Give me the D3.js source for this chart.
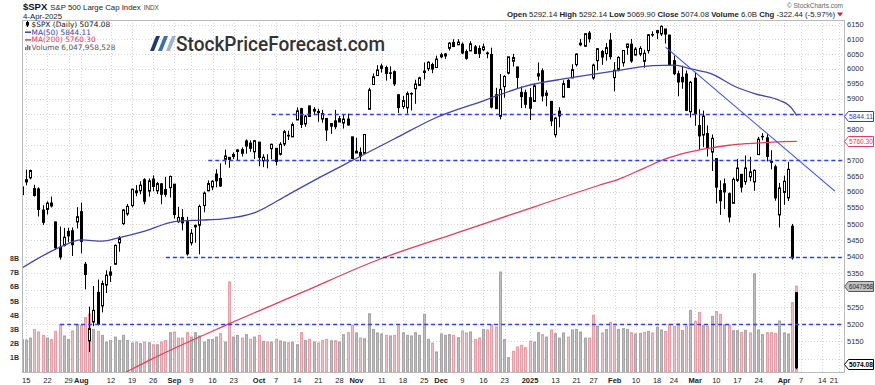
<!DOCTYPE html>
<html>
<head>
<meta charset="utf-8">
<script src="https://cdn.jsdelivr.net/npm/d3@7"></script>
<style>
  body { margin: 0; background: #fff; }
  svg { display: block; }
</style>
</head>
<body>
<div id="chart"></div>
<script>
// ---- data ----
const firstDay = "2024-07-12"
const lastAxisDay = "2025-04-25"
const holidays = ["2024-09-02", "2024-11-28", "2024-12-25", "2025-01-01", "2025-01-09",
  "2025-01-20", "2025-02-17", "2025-04-18"]

// one row per month: Jul(from 12th) .. Apr(to 4th)
const opens = [
  5591, 5638, 5644, 5610, 5609, 5543, 5545, 5565, 5506, 5429, 5434, 5477, 5479, 5506,
  5538, 5377, 5151, 5206, 5293, 5253, 5315, 5354, 5377, 5442, 5501, 5531, 5557, 5603, 5603, 5638, 5602, 5640, 5603, 5625, 5607, 5613,
  5624, 5507, 5520, 5507, 5442, 5491, 5496, 5557, 5603, 5615, 5656, 5642, 5703, 5709, 5712, 5728, 5734, 5762, 5755, 5727,
  5758, 5698, 5698, 5737, 5738, 5719, 5752, 5778, 5775, 5830, 5867, 5817, 5876, 5859, 5858, 5833, 5835, 5818, 5827, 5834, 5820, 5833, 5775,
  5723, 5725, 5722, 5865, 5947, 5977, 6009, 6004, 5986, 5990, 5913, 5874, 5870, 5917, 5933, 5944, 5992, 6000, 6014, 6004,
  6040, 6043, 6069, 6089, 6081, 6083, 6058, 6060, 6074, 6068, 6064, 6053, 6048, 5913, 5842, 5940, 5985, 6025, 6006, 5921, 5920,
  5903, 5891, 5983, 5993, 5911, 5891, 5782, 5859, 5905, 5961, 5969, 6014, 6081, 6076, 6121, 5969, 6027, 6058, 6051, 6097,
  5970, 5998, 6020, 6072, 6083, 6046, 6049, 6025, 6061, 6116, 6122, 6118, 6135, 6114, 6027, 5983, 5971, 5982, 5857,
  5968, 5812, 5781, 5786, 5726, 5705, 5604, 5625, 5594, 5564, 5636, 5655, 5632, 5647, 5631, 5718, 5776, 5772, 5696, 5679, 5528,
  5598, 5581, 5493, 5292.14
]
const highs = [
  5656, 5670, 5670, 5622, 5614, 5558, 5570, 5585, 5508, 5492, 5488, 5488, 5489, 5552,
  5566, 5384, 5251, 5312, 5331, 5328, 5359, 5371, 5437, 5463, 5546, 5562, 5608, 5621, 5633, 5643, 5642, 5652, 5631, 5627, 5647, 5651,
  5624, 5553, 5546, 5522, 5484, 5498, 5560, 5601, 5636, 5636, 5671, 5690, 5734, 5709, 5725, 5735, 5741, 5767, 5764, 5765,
  5758, 5719, 5719, 5753, 5739, 5758, 5797, 5795, 5822, 5871, 5870, 5847, 5878, 5872, 5867, 5863, 5835, 5818, 5863, 5843, 5847, 5851, 5775,
  5772, 5741, 5784, 5936, 5984, 6012, 6017, 6010, 6008, 5994, 5915, 5909, 5924, 5921, 5963, 5973, 6021, 6025, 6020, 6044,
  6054, 6053, 6090, 6100, 6100, 6089, 6065, 6093, 6080, 6079, 6085, 6058, 6071, 5936, 5982, 5978, 6040.1, 6050, 6006, 5941, 5930,
  5935, 5949, 6021, 6001, 5928, 5891, 5839, 5872, 5961, 5965, 6015, 6052, 6101, 6119, 6128, 6017, 6069, 6063, 6087, 6121,
  6022, 6042, 6063, 6084, 6101, 6073, 6076, 6064, 6117, 6127, 6130, 6147, 6135, 6115, 6044, 5993, 6010, 5994, 5959,
  5986, 5865, 5861, 5812, 5783, 5705, 5636, 5642, 5598, 5645, 5704, 5655, 5715, 5711, 5671, 5775, 5787, 5784, 5732, 5686, 5628,
  5651, 5695, 5500, 5292.14
]
const lows = [
  5590, 5621, 5639, 5585, 5523, 5497, 5529, 5551, 5420, 5391, 5431, 5444, 5402, 5486,
  5410, 5302, 5119, 5194, 5196, 5234, 5291, 5324, 5377, 5415, 5497, 5525, 5551, 5586, 5592, 5561, 5585, 5602, 5593, 5561, 5584, 5582,
  5517, 5503, 5480, 5403, 5434, 5442, 5407, 5536, 5602, 5605, 5614, 5615, 5686, 5676, 5704, 5699, 5712, 5721, 5727, 5704,
  5681, 5678, 5674, 5703, 5683, 5715, 5745, 5765, 5775, 5830, 5804, 5808, 5840, 5846, 5824, 5821, 5762, 5785, 5800, 5823, 5802, 5811, 5703,
  5723, 5697, 5722, 5865, 5947, 5977, 5987, 5960, 5966, 5942, 5853, 5866, 5851, 5861, 5883, 5944, 5964, 5992, 5985, 6004,
  6035, 6033, 6061, 6073, 6080, 6049, 6030, 6060, 6051, 6036, 6059, 6035, 5868, 5866, 5832, 5903, 5981, 6007, 5933, 5869, 5869,
  5830, 5889, 5960, 5891, 5875, 5810, 5773, 5806, 5905, 5936, 5969, 6007, 6076, 6075, 6089, 5963, 5994, 6013, 6027, 6031,
  5924, 5991, 6007, 6047, 6020, 6045, 6042, 6003, 6051, 6108, 6100, 6111, 6085, 6009, 5978, 5908, 5933, 5859, 5838,
  5811, 5733, 5742, 5712, 5666, 5564, 5528, 5546, 5505, 5564, 5631, 5598, 5622, 5633, 5603, 5718, 5764, 5696, 5671, 5572, 5489,
  5559, 5571, 5391, 5069.90
]
const closes = [
  5615.4, 5631.2, 5667.2, 5588.3, 5544.6, 5505.0, 5564.4, 5555.7, 5427.1, 5399.2, 5459.1, 5463.5, 5436.4, 5522.3,
  5446.7, 5346.6, 5186.3, 5240.0, 5199.5, 5319.3, 5344.2, 5344.4, 5434.4, 5455.2, 5543.2, 5554.3, 5608.3, 5597.1, 5620.9, 5570.6, 5634.6, 5616.8, 5625.8, 5592.2, 5592.0, 5648.4,
  5528.9, 5520.1, 5503.4, 5408.4, 5471.1, 5495.5, 5554.1, 5595.8, 5626.0, 5633.1, 5634.6, 5618.3, 5713.6, 5702.6, 5718.6, 5732.9, 5722.3, 5745.4, 5738.2, 5762.5,
  5708.8, 5709.5, 5699.9, 5751.1, 5695.9, 5751.1, 5792.0, 5780.1, 5815.0, 5859.9, 5815.3, 5842.5, 5841.5, 5864.7, 5854.0, 5851.2, 5797.4, 5809.9, 5808.1, 5823.5, 5832.9, 5813.7, 5705.5,
  5728.8, 5712.7, 5782.8, 5929.0, 5973.1, 5995.5, 6001.4, 5984.0, 5985.4, 5949.2, 5870.6, 5893.6, 5917.0, 5917.1, 5948.7, 5969.3, 5987.4, 6021.6, 5998.7, 6032.4,
  6047.2, 6049.9, 6086.5, 6075.1, 6090.3, 6052.9, 6034.9, 6084.2, 6051.3, 6051.1, 6074.1, 6050.6, 5872.2, 5867.1, 5930.9, 5974.1, 6040.0, 6037.6, 5970.8, 5906.9, 5881.6,
  5868.6, 5942.5, 5975.4, 5909.0, 5918.3, 5827.0, 5836.2, 5842.9, 5949.9, 5937.3, 5996.7, 6049.2, 6086.4, 6118.7, 6101.2, 6012.3, 6067.7, 6039.3, 6071.2, 6040.5,
  5994.6, 6037.9, 6061.5, 6083.6, 6026.0, 6066.4, 6068.5, 6052.0, 6115.1, 6114.6, 6129.6, 6144.2, 6117.5, 6013.1, 5983.3, 5955.3, 5956.1, 5861.6, 5954.5,
  5849.7, 5778.2, 5842.6, 5738.5, 5770.2, 5614.6, 5572.1, 5599.3, 5521.5, 5638.9, 5675.1, 5614.7, 5675.3, 5662.9, 5667.6, 5767.6, 5776.7, 5712.2, 5693.3, 5580.9, 5611.9,
  5633.1, 5671.0, 5396.52, 5074.08
]
// volume, billions of shares
const volumes = [
  2.28, 2.25, 2.39, 3.0, 2.82, 2.58, 2.39, 2.28, 2.86, 3.33, 2.54, 2.28, 2.89, 3.33,
  3.28, 3.83, 4.1, 3.0, 2.86, 2.58, 2.11, 2.22, 2.46, 2.22, 2.58, 2.22, 2.04, 2.11, 2.0, 2.11, 2.06, 1.92, 1.92, 2.11, 2.22, 2.77,
  2.82, 2.39, 2.39, 2.77, 2.46, 2.77, 2.54, 2.11, 2.28, 2.28, 2.46, 2.7, 2.11, 6.34, 2.46, 2.58, 2.39, 2.63, 2.3, 2.46,
  2.58, 2.16, 2.11, 2.11, 2.3, 2.18, 2.11, 2.06, 2.11, 1.92, 2.77, 2.22, 2.3, 2.11, 2.04, 2.22, 2.3, 2.2, 2.2, 2.11, 2.63, 2.77, 3.28,
  2.75, 2.39, 2.35, 4.1, 3.0, 2.75, 2.68, 2.58, 2.54, 2.58, 3.24, 2.77, 2.58, 2.54, 2.77, 2.58, 4.06, 2.3, 2.04, 1.41,
  2.68, 2.58, 2.63, 2.58, 2.42, 2.89, 2.75, 2.82, 2.3, 2.39, 3.0, 2.96, 3.33, 3.17, 7.04, 2.28, 1.01, 1.46, 1.76, 1.88, 1.71,
  2.18, 2.11, 2.77, 2.63, 2.46, 2.96, 2.7, 2.39, 2.75, 2.46, 2.96, 3.0, 2.82, 2.39, 2.39, 3.99, 3.24, 2.75, 3.0, 3.5,
  3.22, 3.0, 3.05, 3.0, 2.77, 2.68, 2.72, 2.79, 2.86, 2.75, 3.15, 2.96, 2.86, 3.36, 3.22, 3.41, 2.93, 3.24, 4.34,
  3.57, 4.2, 3.26, 3.24, 3.92, 4.25, 4.06, 3.33, 3.28, 2.91, 2.91, 2.79, 2.93, 2.75, 6.92, 2.96, 2.63, 2.77, 2.77, 2.72, 3.59,
  2.75, 2.68, 4.88, 6.048
]

// moving averages read at sample dates
const ma50 = [
  ["2024-07-12", 5366], ["2024-07-25", 5429], ["2024-08-01", 5451], ["2024-08-08", 5447],
  ["2024-08-14", 5458], ["2024-08-22", 5478], ["2024-09-03", 5507], ["2024-09-11", 5512],
  ["2024-09-18", 5515], ["2024-09-30", 5535], ["2024-10-10", 5592], ["2024-10-22", 5650],
  ["2024-10-31", 5699], ["2024-11-14", 5769], ["2024-11-29", 5839], ["2024-12-16", 5893],
  ["2024-12-31", 5942], ["2025-01-16", 5968], ["2025-01-31", 5990], ["2025-02-14", 6010],
  ["2025-02-24", 6012], ["2025-02-28", 5999], ["2025-03-07", 5982], ["2025-03-14", 5943],
  ["2025-03-21", 5917], ["2025-03-31", 5894], ["2025-04-02", 5879], ["2025-04-03", 5865],
  ["2025-04-04", 5844.11]
]
const ma200 = [
  ["2024-08-05", 5010], ["2024-08-15", 5058], ["2024-08-23", 5095], ["2024-09-20", 5201],
  ["2024-10-15", 5292], ["2024-11-08", 5390], ["2024-12-04", 5465], ["2024-12-26", 5531],
  ["2025-01-28", 5619], ["2025-02-04", 5640], ["2025-02-12", 5675], ["2025-02-20", 5704],
  ["2025-02-27", 5724], ["2025-03-06", 5738], ["2025-03-13", 5748], ["2025-03-19", 5753],
  ["2025-03-26", 5757], ["2025-04-01", 5760], ["2025-04-04", 5760.30]
]

// drawn annotations: horizontal levels (with start date) and the falling trend line
const levels = [[5850, "2024-10-04"], [5700, "2024-09-13"], [5400, "2024-08-29"], [5200, "2024-07-25"]]
const trendLine = [["2025-02-20", 6073], ["2025-04-17", 5602]]

const priceTicks = d3.range(5100, 6151, 50)
const volumeTicks = [1, 2, 3, 4, 5, 6, 7, 8]
const dateTicks = [
  ["2024-07-15", "15"], ["2024-07-22", "22"], ["2024-07-29", "29"], ["2024-08-01", "Aug", 1],
  ["2024-08-12", "12"], ["2024-08-19", "19"], ["2024-08-26", "26"], ["2024-09-03", "Sep", 1],
  ["2024-09-09", "9"], ["2024-09-16", "16"], ["2024-09-23", "23"], ["2024-10-01", "Oct", 1],
  ["2024-10-07", "7"], ["2024-10-14", "14"], ["2024-10-21", "21"], ["2024-10-28", "28"],
  ["2024-11-01", "Nov", 1], ["2024-11-11", "11"], ["2024-11-18", "18"], ["2024-11-25", "25"],
  ["2024-12-02", "Dec", 1], ["2024-12-09", "9"], ["2024-12-16", "16"], ["2024-12-23", "23"],
  ["2025-01-02", "2025", 1], ["2025-01-13", "13"], ["2025-01-21", "21"], ["2025-01-27", "27"],
  ["2025-02-03", "Feb", 1], ["2025-02-10", "10"], ["2025-02-18", "18"], ["2025-02-24", "24"],
  ["2025-03-03", "Mar", 1], ["2025-03-10", "10"], ["2025-03-17", "17"], ["2025-03-24", "24"],
  ["2025-04-01", "Apr", 1], ["2025-04-07", "7"], ["2025-04-14", "14"], ["2025-04-21", "21"]
]

const headerStats = [["Open", "5292.14"], ["High", "5292.14"], ["Low", "5069.90"], ["Close", "5074.08"],
  ["Volume", "6.0B"], ["Chg", "-322.44 (-5.97%)"]]
const legendRows = [
  ["$SPX (Daily) 5074.08", "#222", "candle"],
  ["MA(50) 5844.11", "#3c3ca8", "line"],
  ["MA(200) 5760.30", "#e0405c", "line"],
  ["Volume 6,047,958,528", "#555", "vol"]
]

// ---- trading day calendar ----
function tradingDays(from, to) {
  const out = []
  const end = new Date(to + "T00:00:00Z")
  for (let d = new Date(from + "T00:00:00Z"); d <= end; d.setUTCDate(d.getUTCDate() + 1)) {
    const s = d.toISOString().slice(0, 10)
    const dow = d.getUTCDay()
    if (dow > 0 && dow < 6 && !holidays.includes(s)) out.push(s)
  }
  return out
}
const days = tradingDays(firstDay, lastAxisDay)
const dayIndex = new Map(days.map((d, i) => [d, i]))

const bars = closes.map((c, i) => ({
  i, o: opens[i], h: highs[i], l: lows[i], c, v: volumes[i],
  down: i > 0 && c < closes[i - 1]
}))

// ---- layout ----
const W = 875, H = 385
const P = { LEFT: 22, RIGHT: 844, TOP: 20, BOTTOM: 372 }
const FONT = '"Liberation Sans", Arial, sans-serif'

const x = d3.scaleLinear().domain([0, 194.15]).range([P.LEFT, P.RIGHT])
const y = d3.scaleLog().domain([5062, 6166]).range([P.BOTTOM, P.TOP])
const yVol = d3.scaleLinear().domain([0, 24.79]).range([P.BOTTOM, P.TOP])
const xd = d => x(dayIndex.get(d))

const svg = d3.select("#chart").append("svg")
  .attr("width", W).attr("height", H)
  .style("font-family", FONT)

svg.append("rect").attr("width", W).attr("height", H).attr("fill", "#fff")

svg.append("defs").append("clipPath").attr("id", "plot")
  .append("rect")
  .attr("x", P.LEFT).attr("y", P.TOP)
  .attr("width", P.RIGHT - P.LEFT).attr("height", P.BOTTOM - P.TOP)

// grid
const grid = svg.append("g")
  .attr("stroke", "#d6d6d6").attr("stroke-dasharray", "1,2").attr("stroke-width", 1)
grid.selectAll(".gh").data(priceTicks).join("line")
  .attr("x1", P.LEFT).attr("x2", P.RIGHT)
  .attr("y1", d => Math.round(y(d)) + 0.5).attr("y2", d => Math.round(y(d)) + 0.5)
grid.selectAll(".gv").data(dateTicks).join("line")
  .attr("y1", P.TOP).attr("y2", P.BOTTOM)
  .attr("x1", d => Math.round(xd(d[0])) + 0.5).attr("x2", d => Math.round(xd(d[0])) + 0.5)

const plot = svg.append("g").attr("clip-path", "url(#plot)")

// volume bars
plot.append("g").selectAll("rect").data(bars).join("rect")
  .attr("x", d => Math.round(x(d.i) - 1.5) + 0.5)
  .attr("width", 2)
  .attr("y", d => yVol(d.v))
  .attr("height", d => P.BOTTOM - yVol(d.v))
  .attr("fill", d => d.down ? "#f4bcc3" : "#bdbdbd")
  .attr("stroke", d => d.down ? "#e79ea8" : "#a6a6a6")
  .attr("stroke-width", 1)

// candles
const candles = plot.append("g")
candles.selectAll("line").data(bars).join("line")
  .attr("x1", d => Math.round(x(d.i) - 1.5) + 1.5)
  .attr("x2", d => Math.round(x(d.i) - 1.5) + 1.5)
  .attr("y1", d => y(d.h)).attr("y2", d => y(d.l))
  .attr("stroke", "#000").attr("stroke-width", 1)
candles.selectAll("rect").data(bars).join("rect")
  .attr("x", d => Math.round(x(d.i) - 1.5) + 0.5)
  .attr("width", 2)
  .attr("y", d => y(Math.max(d.o, d.c)))
  .attr("height", d => Math.max(0.5, y(Math.min(d.o, d.c)) - y(Math.max(d.o, d.c))))
  .attr("fill", d => d.c >= d.o ? "#fff" : "#000")
  .attr("stroke", "#000").attr("stroke-width", 1)

// moving averages
const maLine = d3.line().x(d => xd(d[0])).y(d => y(d[1])).curve(d3.curveMonotoneX)
plot.append("path").datum(ma200).attr("d", maLine)
  .attr("fill", "none").attr("stroke", "#e0405c").attr("stroke-width", 1.3)
plot.append("path").datum(ma50).attr("d", maLine)
  .attr("fill", "none").attr("stroke", "#4444aa").attr("stroke-width", 1.3)

// annotations
plot.append("g").selectAll("line").data(levels).join("line")
  .attr("x1", d => xd(d[1])).attr("x2", P.RIGHT)
  .attr("y1", d => Math.round(y(d[0])) + 0.5).attr("y2", d => Math.round(y(d[0])) + 0.5)
  .attr("stroke", "#2f3ff0").attr("stroke-width", 1.3).attr("stroke-dasharray", "4,3")
plot.append("line")
  .attr("x1", xd(trendLine[0][0])).attr("y1", y(trendLine[0][1]))
  .attr("x2", xd(trendLine[1][0])).attr("y2", y(trendLine[1][1]))
  .attr("stroke", "#3350ee").attr("stroke-width", 1.1)

// frame
svg.append("rect")
  .attr("x", P.LEFT + 0.5).attr("y", P.TOP + 0.5)
  .attr("width", P.RIGHT - P.LEFT).attr("height", P.BOTTOM - P.TOP)
  .attr("fill", "none").attr("stroke", "#b9b9b9")

// value tags on the right (price ticks hidden under a tag are not drawn)
const lastVol = volumes[volumes.length - 1]
const tags = [
  [Math.round(y(5844.11)) + 0.5, "5844.11", "#3c3ca8", "#fff", "#3c3ca8", false],
  [Math.round(y(5760.30)) + 0.5, "5760.30", "#e0405c", "#fff", "#e0405c", false],
  [Math.round(yVol(lastVol)) + 0.5, "6047958", "#555", "#c4c4c4", "#222", false],
  [Math.round(y(5074.08)) - 3.5, "5074.08", "#000", "#fff", "#000", true]
]

// right price axis
svg.append("g").selectAll("text")
  .data(priceTicks.filter(p => tags.every(t => Math.abs(y(p) - t[0]) > 8)))
  .join("text")
  .attr("x", P.RIGHT + 3).attr("y", d => y(d) + 2.7)
  .attr("font-size", 7.5).attr("fill", "#333")
  .text(d => d)

tags.forEach(([yy, label, stroke, fill, color, bold]) => {
  const x0 = P.RIGHT + 0.5, x1 = W - 1.5
  const g = svg.append("g")
  g.append("path")
    .attr("d", `M${x0},${yy} L${x0 + 4},${yy - 5} L${x1},${yy - 5} L${x1},${yy + 5} L${x0 + 4},${yy + 5} Z`)
    .attr("fill", fill).attr("stroke", stroke).attr("stroke-width", 1)
  g.append("text").attr("x", x0 + 4.5).attr("y", yy + 2.6)
    .attr("font-size", 7).attr("fill", color).attr("font-weight", bold ? "bold" : "normal")
    .attr("textLength", 24).attr("lengthAdjust", "spacingAndGlyphs")
    .text(label)
})

// left volume axis
svg.append("g").selectAll("text").data(volumeTicks).join("text")
  .attr("x", 19).attr("y", d => yVol(d) + 2.6)
  .attr("text-anchor", "end").attr("font-size", 7).attr("font-weight", "bold").attr("fill", "#333")
  .text(d => d + "B")

// bottom date axis
svg.append("g").selectAll("text").data(dateTicks).join("text")
  .attr("x", d => Math.min(xd(d[0]), 834))
  .attr("y", 383)
  .attr("text-anchor", "middle").attr("font-size", 7.5)
  .attr("font-weight", d => d[2] ? "bold" : "normal").attr("fill", "#222")
  .text(d => d[1])

// header
const sym = svg.append("text").attr("x", 23).attr("y", 10)
  .attr("font-size", 9.5).attr("font-weight", "bold").attr("fill", "#111").text("$SPX")
const nameX = 23 + sym.node().getComputedTextLength() + 3
const name = svg.append("text").attr("x", nameX).attr("y", 10)
  .attr("font-size", 7.8).attr("fill", "#222").text("S&P 500 Large Cap Index")
svg.append("text").attr("x", nameX + name.node().getComputedTextLength() + 3).attr("y", 10)
  .attr("font-size", 6.3).attr("fill", "#444").text("INDX")
svg.append("text").attr("x", 23).attr("y", 18.5)
  .attr("font-size", 7.8).attr("fill", "#222").text("4-Apr-2025")

svg.append("text").attr("x", 843).attr("y", 7.5).attr("text-anchor", "end")
  .attr("font-size", 6.5).attr("fill", "#666").text("© StockCharts.com")

const stats = svg.append("text").attr("x", 835).attr("y", 17).attr("text-anchor", "end")
  .attr("font-size", 7.8).attr("fill", "#222")
headerStats.forEach(([k, v], i) => {
  stats.append("tspan").attr("font-weight", "bold").text((i ? " " : "") + k + " ")
  stats.append("tspan").text(v)
})
svg.append("path").attr("d", "M837,12.5 L843,12.5 L840,16.5 Z").attr("fill", "#d0203a")

// legend inside the plot
const legend = svg.append("g").attr("font-family", '"DejaVu Sans", Verdana, sans-serif')
legendRows.forEach(([label, color, icon], i) => {
  const by = 27 + i * 7.7
  if (icon === "candle") {
    legend.append("line").attr("x1", 27.5).attr("x2", 27.5).attr("y1", by - 6).attr("y2", by)
      .attr("stroke", "#000")
    legend.append("rect").attr("x", 26).attr("y", by - 5).attr("width", 3).attr("height", 3.5).attr("fill", "#000")
  } else if (icon === "line") {
    legend.append("line").attr("x1", 25).attr("x2", 31).attr("y1", by - 2.5).attr("y2", by - 2.5)
      .attr("stroke", color).attr("stroke-width", 1.5)
  } else {
    [[25, 3], [27, 5], [29, 4]].forEach(([bx, bh]) => {
      legend.append("rect").attr("x", bx).attr("y", by - bh).attr("width", 1.5).attr("height", bh).attr("fill", "#777")
    })
  }
  legend.append("text").attr("x", 31.5).attr("y", by)
    .attr("font-size", 7.4).attr("fill", color).text(label)
})

// watermark logo
const logo = svg.append("g")
const slashColors = ["#1d3b6f", "#3d6fa8", "#9fb4cc"]
slashColors.forEach((c, k) => {
  const x0 = 150 + k * 8
  logo.append("path")
    .attr("d", `M${x0},51 L${x0 + 4},51 L${x0 + 10},36 L${x0 + 6},36 Z`)
    .attr("fill", c)
})
logo.append("text").attr("x", 176).attr("y", 51)
  .attr("font-family", "Roboto, sans-serif").attr("font-size", 21).attr("font-weight", 500)
  .attr("fill", "#333").attr("textLength", 209).attr("lengthAdjust", "spacingAndGlyphs")
  .text("StockPriceForecast.com")
</script>
</body>
</html>
